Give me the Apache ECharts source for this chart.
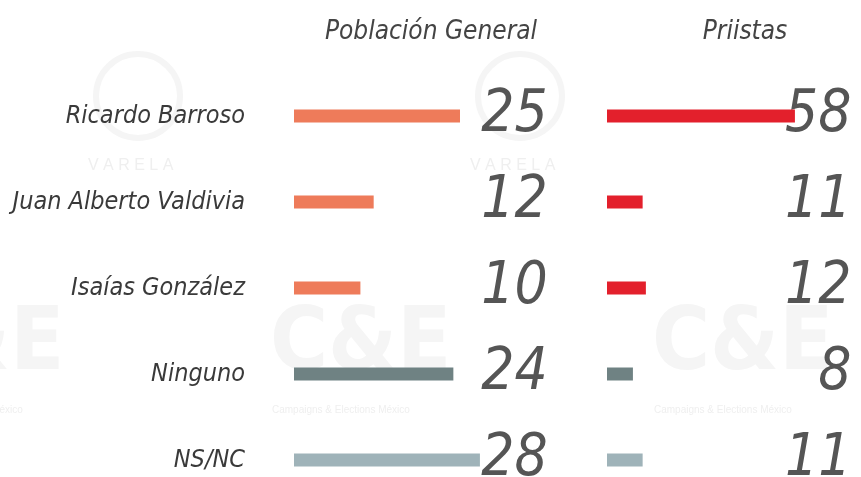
<!DOCTYPE html>
<html>
<head>
<meta charset="utf-8">
<script src="https://cdn.jsdelivr.net/npm/echarts@6/dist/echarts.min.js"></script>
<style>
  html, body { margin: 0; padding: 0; background: #fff; }
  #chart { width: 861px; height: 477px; }
</style>
</head>
<body>
<div id="chart"></div>
<script>
// datos
var candidatos = ['Ricardo Barroso', 'Juan Alberto Valdivia', 'Isaías González', 'Ninguno', 'NS/NC'];
var poblacionGeneral = [25, 12, 10, 24, 28];
var priistas = [58, 11, 12, 8, 11];
var titulos = ['Población General', 'Priistas'];

var colorGeneral = ['#ee7b5a', '#ee7b5a', '#ee7b5a', '#6f8283', '#9fb3b9'];
var colorPriistas = ['#e3202c', '#e3202c', '#e3202c', '#6f8283', '#9fb3b9'];

var FONT = "'DejaVu Sans', sans-serif";
var ANCHO = 'condensed'; // va dentro del font shorthand

var chart = echarts.init(document.getElementById('chart'));

function datos(vals, colors) {
  return vals.map(function (v, i) {
    return { value: v, itemStyle: { color: colors[i] } };
  });
}

function ejeValores(vals, margin) {
  return {
    type: 'category',
    inverse: true,
    position: 'right',
    data: candidatos,
    axisLine: { show: false },
    axisTick: { show: false },
    axisLabel: {
      interval: 0,
      hideOverlap: false,
      margin: margin,
      align: 'right',
      verticalAlign: 'middle',
      fontFamily: FONT,
      fontStyle: 'italic',
      fontWeight: ANCHO,
      fontSize: 58,
      color: '#555555',
      padding: [0, 0, 24, 0],
      formatter: function (v, i) { return String(vals[i]); }
    }
  };
}

// marcas de agua tenues
var marcas = [];
[[-117, 302], [270, 302], [652, 302]].forEach(function (p) {
  marcas.push({
    type: 'text', left: p[0], top: p[1], silent: true, z: -1,
    style: { text: 'C&E', font: 'condensed bold 88px ' + FONT, fill: '#f5f5f5' }
  });
  marcas.push({
    type: 'text', left: p[0] + 2, top: p[1] + 103, silent: true, z: -1,
    style: { text: 'Campaigns & Elections México', font: '10px sans-serif', fill: '#efefef' }
  });
});
[[88, 158], [470, 158]].forEach(function (p) {
  marcas.push({
    type: 'text', left: p[0], top: p[1], silent: true, z: -1,
    style: { text: 'V A R E L A', font: '16px sans-serif', fill: '#efefef' }
  });
  marcas.push({
    type: 'circle', silent: true, z: -1,
    shape: { cx: p[0] + 50, cy: p[1] - 62, r: 42 },
    style: { fill: 'none', stroke: '#f5f5f5', lineWidth: 6 }
  });
});

chart.setOption({
  backgroundColor: '#ffffff',
  animation: false,
  title: [
    {
      text: titulos[0], left: 426, top: 14, textAlign: 'center',
      textStyle: { fontFamily: FONT, fontStyle: 'italic', fontWeight: ANCHO, fontSize: 26, color: '#444' }
    },
    {
      text: titulos[1], left: 740, top: 14, textAlign: 'center',
      textStyle: { fontFamily: FONT, fontStyle: 'italic', fontWeight: ANCHO, fontSize: 26, color: '#444' }
    }
  ],
  graphic: marcas,
  grid: [
    { left: 294, top: 73, width: 265.6, height: 430, outerBoundsMode: 'none', containLabel: false },
    { left: 607, top: 73, width: 194.4, height: 430, outerBoundsMode: 'none', containLabel: false }
  ],
  xAxis: [
    { gridIndex: 0, type: 'value', min: 0, max: 40, show: false },
    { gridIndex: 1, type: 'value', min: 0, max: 60, show: false }
  ],
  yAxis: [
    {
      gridIndex: 0, type: 'category', inverse: true, data: candidatos,
      axisLine: { show: false }, axisTick: { show: false },
      axisLabel: {
        interval: 0, hideOverlap: false,
        margin: 49, fontFamily: FONT, fontStyle: 'italic', fontWeight: ANCHO, fontSize: 25, color: '#3a3a3a'
      }
    },
    Object.assign({ gridIndex: 0 }, ejeValores(poblacionGeneral, -12)),
    {
      gridIndex: 1, type: 'category', inverse: true, data: candidatos,
      axisLine: { show: false }, axisTick: { show: false }, axisLabel: { show: false }
    },
    Object.assign({ gridIndex: 1 }, ejeValores(priistas, 50))
  ],
  series: [
    {
      name: titulos[0], type: 'bar', xAxisIndex: 0, yAxisIndex: 0,
      barWidth: 13, data: datos(poblacionGeneral, colorGeneral)
    },
    {
      name: titulos[1], type: 'bar', xAxisIndex: 1, yAxisIndex: 2,
      barWidth: 13, data: datos(priistas, colorPriistas)
    }
  ]
});
</script>
</body>
</html>
